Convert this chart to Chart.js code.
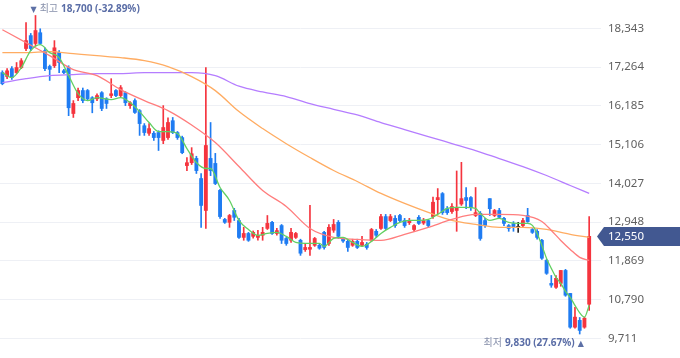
<!DOCTYPE html>
<html><head><meta charset="utf-8">
<script src="https://cdn.jsdelivr.net/npm/chart.js@4.4.1/dist/chart.umd.min.js"></script>
<style>html,body{margin:0;padding:0;background:#fff;overflow:hidden}</style>
</head><body>
<canvas id="c" width="680" height="358"></canvas>
<script>
// ---- data ----
const opens  = [17110,17000,17220,17110,17250,17780,18140,17920,18220,17720,17280,17300,17670,17160,17250,15970,16410,16610,16610,16410,16380,16550,16380,16470,16610,16470,16550,16190,16330,16050,15630,15420,15420,15440,15220,15300,15770,15440,15300,14520,14600,14720,14160,13270,14720,14580,13830,13020,12940,13270,12990,12520,12630,12550,12520,12580,12770,12940,12630,12850,12490,12440,12520,12440,12180,12190,12300,12300,12660,12350,12720,12940,12470,12410,12300,12410,12300,12330,12440,12690,12770,13100,12990,13050,13130,12990,12930,12740,13080,12920,12990,13100,13570,13740,13320,13240,13270,13450,13630,13630,13130,13190,12990,13600,13130,13270,13050,12850,12900,12800,12850,13130,12740,12690,12440,11880,11240,11130,11240,11600,10960,10020,10210,10020,10660];
const highs  = [17160,17220,17280,17390,17500,18500,18200,18700,18330,17800,17320,18000,17720,17200,17300,16330,16680,16680,16640,16440,16520,16580,16410,16940,16640,16750,16580,16300,16380,16080,15690,15690,15470,15490,16190,15850,15860,15470,15340,14740,15020,14780,14300,17250,15720,14860,13860,13050,13160,13330,13050,12800,12660,12700,12720,12800,13130,12970,12770,12880,12520,12770,12660,12470,12350,13410,12520,12330,12690,12880,13020,12990,12520,12440,12470,12470,12550,12380,12770,12740,13160,13160,13160,13130,13160,13050,13050,12880,13130,13050,13020,13640,13880,13770,13380,13460,14370,14610,13910,13660,13910,13240,13050,13600,13300,13330,13080,12880,12960,12940,13050,13330,12770,12740,12470,11910,11460,11460,11600,11630,10960,10570,10290,10300,13100];
const lows   = [16770,16940,16920,17080,17220,17720,17720,17860,17900,17160,16890,17250,17110,17080,15910,15860,16330,16270,16330,15990,16330,16050,16110,16410,16440,16440,16190,16110,15970,15360,15360,15360,15220,14940,15130,15250,15410,15250,14850,14380,14550,14300,12800,12770,14240,13990,13050,12910,12800,12990,12490,12440,12410,12500,12440,12440,12740,12600,12580,12350,12300,12380,12490,12020,12130,12020,12270,12190,12190,12300,12660,12490,12380,12130,12270,12210,12270,12190,12410,12520,12740,12740,12960,12800,12960,12800,12880,12690,12880,12880,12800,13050,13180,13160,13160,13190,12690,13410,13320,13270,13100,12440,12800,13130,13100,13050,12850,12690,12690,12660,12800,12940,12630,12470,11910,11490,11130,11100,11160,10880,9990,9990,9830,9990,10490];
const closes = [16800,17160,16970,17250,17440,18000,17780,18280,17920,17220,17200,17800,17390,17110,16130,16250,16610,16330,16380,16270,16470,16110,16250,16520,16470,16690,16270,16270,16000,15690,15440,15550,15300,15300,15580,15720,15440,15300,14880,14600,14850,14380,13410,15080,14380,14020,13100,12940,13130,13080,12520,12630,12440,12660,12580,12660,12910,12630,12710,12440,12350,12660,12630,12080,12240,12240,12490,12220,12240,12800,12880,12550,12420,12240,12410,12240,12380,12240,12740,12580,13100,12770,13100,12850,12990,12850,12990,12850,12910,12990,12850,13500,13630,13210,13210,13380,13350,13600,13550,13350,13210,12490,12850,13320,13270,13080,12910,12770,12800,12800,12990,12960,12660,12520,11940,11520,11190,11380,11600,10910,10020,10300,9930,10270,12550];
const emptySlots = 2;

// moving average lines: [candle index, value]
const ma5Pts = [[0,17108],[2,16970],[4,17248],[6,17720],[8,17887],[10,17665],[12,17526],[14,17025],[16,16524],[18,16330],[20,16413],[23,16358],[25,16413],[27,16274],[29,16024],[31,15718],[33,15468],[35,15468],[37,15412],[39,14995],[41,14606],[43,14439],[44,14439],[46,13910],[48,13549],[50,12993],[52,12742],[54,12575],[56,12631],[58,12659],[60,12548],[62,12381],[64,12353],[67,12353],[68,12270],[70,12492],[72,12520],[74,12381],[76,12270],[78,12409],[80,12631],[82,12798],[84,12937],[86,12993],[88,12993],[90,13020],[92,13160],[94,13326],[96,13354],[98,13354],[100,13326],[101,13187],[103,12993],[105,13048],[107,12937],[109,12909],[111,12909],[112,12854],[113,12631],[114,12297],[115,11936],[116,11658],[117,11407],[118,11240],[119,11018],[120,10851],[121,10629],[122,10420],[123,10300],[124,10629]];
const ma20Pts = [[0,18304],[5,17943],[10,17581],[15,17192],[20,17025],[25,16636],[30,16330],[35,16052],[40,15650],[45,15162],[50,14494],[55,13827],[60,13382],[65,12770],[70,12520],[75,12464],[80,12436],[85,12603],[90,12798],[95,13020],[100,13160],[105,13160],[110,13132],[114,12965],[116,12714],[118,12436],[120,12186],[122,11964],[124,11880]];
const ma60Pts = [[0,17665],[5,17665],[10,17693],[15,17637],[20,17581],[25,17526],[30,17442],[35,17275],[40,16997],[45,16608],[50,16024],[55,15551],[60,15130],[65,14745],[70,14383],[75,14077],[80,13744],[85,13465],[90,13215],[95,12993],[100,12882],[105,12798],[110,12798],[115,12742],[120,12603],[124,12520]];
const ma120Pts = [[0,16830],[5,16941],[10,17025],[15,17053],[20,17081],[25,17081],[30,17108],[35,17108],[40,17108],[45,17025],[50,16730],[55,16570],[60,16440],[65,16246],[70,16088],[75,15929],[80,15718],[85,15523],[90,15329],[95,15134],[100,14939],[105,14717],[110,14494],[115,14244],[120,13966],[124,13744]];

const yTicks = [9711,10790,11869,12948,14027,15106,16185,17264,18343];
const yMin = 9162, yMax = 19131;
const highText = {title:'최고', value:'18,700 (-32.89%)'};
const lowText  = {title:'최저', value:'9,830 (27.67%)'};

// ---- build ----
const N = opens.length + emptySlots;
const labels = Array.from({length:N}, (_, i) => String(i));
const RED = '#f5343e', BLUE = '#1f7cf2', FLAT = '#222222';
const colors = closes.map((c, i) => c > opens[i] ? RED : (c < opens[i] ? BLUE : FLAT));
const wickData = lows.map((l, i) => [l, highs[i]]);
const bodyData = opens.map((o, i) => [Math.min(o, closes[i]), Math.max(o, closes[i])]);
function fromPts(pts){ const a = new Array(N).fill(null); pts.forEach(([i,v]) => a[i] = v); return a; }
const FONT = "'Noto Sans', 'Noto Sans CJK KR', sans-serif";

function lineDs(pts, color){
  return {type:'line', data: fromPts(pts), borderColor: color, borderWidth: 1.3, pointRadius: 0,
    spanGaps: true, cubicInterpolationMode: 'monotone', order: 0, fill: false};
}

const overlay = {
  id: 'overlay',
  afterDraw(chart){
    const {ctx, scales:{x, y}} = chart;
    ctx.save();
    ctx.textBaseline = 'middle';
    // high label
    const hi = highs.indexOf(Math.max(...highs));
    const hx = x.getPixelForValue(hi), hy = y.getPixelForValue(highs[hi]);
    let cx = hx - 5, ty = hy - 6;
    ctx.textAlign = 'left';
    ctx.font = "8px 'DejaVu Sans'"; ctx.fillStyle = '#5d70a6';
    ctx.fillText('▼', cx, ty + 0.5); cx += ctx.measureText('▼').width + 3;
    ctx.font = "10px " + FONT; ctx.fillStyle = '#8790ab';
    ctx.fillText(highText.title, cx, ty); cx += ctx.measureText(highText.title).width + 3;
    ctx.font = "bold 10px " + FONT; ctx.fillStyle = '#5a6da6';
    ctx.fillText(highText.value, cx, ty);
    // low label
    const lo = lows.indexOf(Math.min(...lows));
    const lx = x.getPixelForValue(lo), ly = y.getPixelForValue(lows[lo]) + 9.5;
    ctx.textAlign = 'center';
    ctx.font = "8px 'DejaVu Sans'"; ctx.fillStyle = '#5d70a6';
    ctx.fillText('▲', lx + 1, ly);
    let rx = lx - 5;
    ctx.textAlign = 'right';
    ctx.font = "bold 10px " + FONT; ctx.fillStyle = '#5a6da6';
    ctx.fillText(lowText.value, rx, ly); rx -= ctx.measureText(lowText.value).width + 3;
    ctx.font = "10px " + FONT; ctx.fillStyle = '#8790ab';
    ctx.fillText(lowText.title, rx, ly);
    // current price tag
    const last = closes[closes.length - 1];
    const py = Math.round(y.getPixelForValue(last)) + 0.5;
    ctx.fillStyle = '#425891';
    ctx.beginPath();
    ctx.moveTo(597, py);
    ctx.lineTo(604, py - 9.5);
    ctx.lineTo(680, py - 9.5);
    ctx.lineTo(680, py + 9.5);
    ctx.lineTo(604, py + 9.5);
    ctx.closePath();
    ctx.fill();
    ctx.fillStyle = '#ffffff';
    ctx.textAlign = 'left';
    ctx.font = "11.5px " + FONT;
    ctx.fillText(last.toLocaleString('en-US'), 608, py);
    ctx.restore();
  }
};

new Chart(document.getElementById('c'), {
  type: 'bar',
  data: {
    labels,
    datasets: [
      lineDs(ma5Pts, '#62d062'),
      lineDs(ma20Pts, '#ff7d7d'),
      lineDs(ma60Pts, '#ffac62'),
      lineDs(ma120Pts, '#b57dff'),
      {type:'bar', data: bodyData, backgroundColor: colors, barThickness: 3.2, grouped: false, minBarLength: 1, order: 1, borderWidth: 0},
      {type:'bar', data: wickData, backgroundColor: colors, barThickness: 1, grouped: false, order: 2, borderWidth: 0}
    ]
  },
  options: {
    responsive: false,
    animation: false,
    devicePixelRatio: 1,
    layout: {padding: 0},
    plugins: {legend: {display: false}, tooltip: {enabled: false}},
    scales: {
      x: {display: false, offset: true},
      y: {
        position: 'right', min: yMin, max: yMax,
        afterBuildTicks: s => { s.ticks = yTicks.map(v => ({value: v})); },
        afterFit: s => { s.width = 79; s.paddingTop = 0; s.paddingBottom = 0; },
        border: {display: false},
        grid: {color: '#eef0f5', drawTicks: false},
        ticks: {padding: 7, color: '#5f5f5f', font: {family: FONT, size: 11.5},
          callback: v => Number(v).toLocaleString('en-US')}
      }
    }
  },
  plugins: [overlay]
});
</script>
</body></html>
